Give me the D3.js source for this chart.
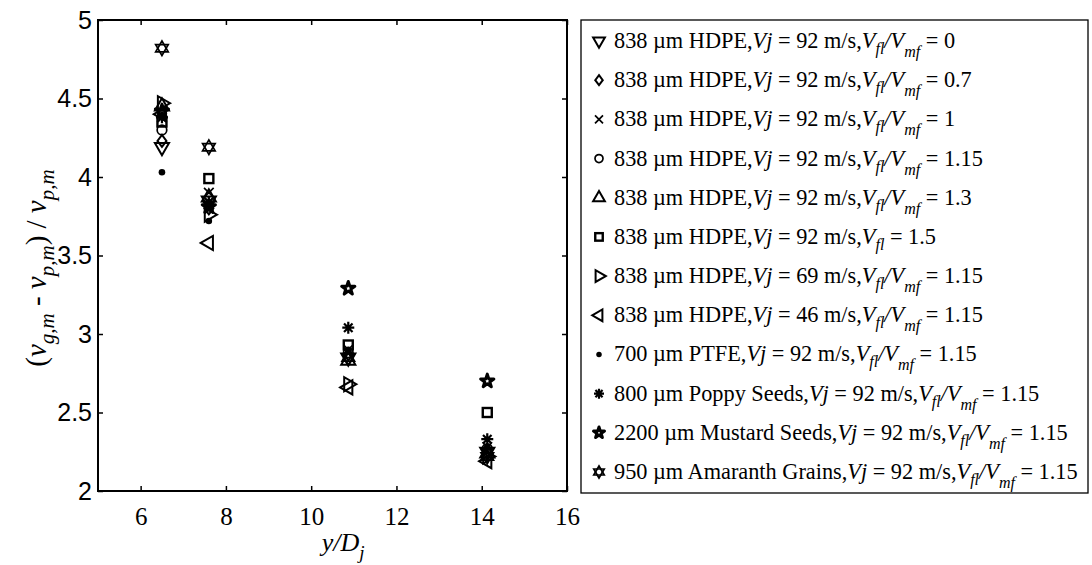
<!DOCTYPE html>
<html><head><meta charset="utf-8">
<script src="https://cdn.jsdelivr.net/npm/d3@7"></script>
<style>body{margin:0;background:#fff}</style>
</head><body>
<svg id="c" width="1092" height="565"></svg>
<script>
// ---------- data ----------
const xPositions = [6.5, 7.6, 10.87, 14.13];
const xTicks = [6, 8, 10, 12, 14, 16];
const yTicks = [2, 2.5, 3, 3.5, 4, 4.5, 5];
const yTickLabels = ["2", "2.5", "3", "3.5", "4", "4.5", "5"];
const seriesShapes = ["triDown","diamond","cross","circle","triUp","square","triRight","triLeft","dot","asterisk","pentagram","hexagram"];
const seriesPrefix = ["838 µm HDPE,","838 µm HDPE,","838 µm HDPE,","838 µm HDPE,","838 µm HDPE,","838 µm HDPE,","838 µm HDPE,","838 µm HDPE,","700 µm PTFE,","800 µm Poppy Seeds,","2200 µm Mustard Seeds,","950 µm Amaranth Grains,"];
const seriesVj = ["92","92","92","92","92","92","69","46","92","92","92","92"];
const seriesRatio = ["0","0.7","1","1.15","1.3","1.5","1.15","1.15","1.15","1.15","1.15","1.15"];
const seriesHasMf = [true,true,true,true,true,false,true,true,true,true,true,true];
const seriesValues = [
  [4.19, 3.85, 2.85, 2.25],
  [4.23, 3.80, 2.87, 2.26],
  [4.38, 3.90, 2.90, 2.28],
  [4.30, 3.82, 2.88, 2.27],
  [4.45, 3.87, 2.83, 2.24],
  [4.35, 3.99, 2.93, 2.50],
  [4.47, 3.76, 2.68, 2.22],
  [4.40, 3.58, 2.66, 2.19],
  [4.03, 3.72, 2.90, 2.28],
  [4.38, 3.84, 3.04, 2.33],
  [4.42, 3.81, 3.29, 2.70],
  [4.82, 4.19, 2.85, 2.22]
];

// ---------- layout ----------
const svg = d3.select("#c");
const L = 98, R = 567, T = 20, B = 491;
const x = d3.scaleLinear().domain([5, 16]).range([L, R]);
const y = d3.scaleLinear().domain([2, 5]).range([B, T]);
const serif = "'Liberation Serif','Times New Roman',serif";
const sans = "'Liberation Sans',Arial,sans-serif";

// frame
svg.append("rect").attr("x", L).attr("y", T).attr("width", R - L).attr("height", B - T)
  .attr("fill", "none").attr("stroke", "#000").attr("stroke-width", 2);

// axes via d3 (ticks inward)
const xAxB = svg.append("g").attr("transform", `translate(0,${B})`)
  .call(d3.axisBottom(x).tickValues(xTicks).tickSizeInner(-5).tickSizeOuter(0).tickPadding(16));
const xAxT = svg.append("g").attr("transform", `translate(0,${T})`)
  .call(d3.axisTop(x).tickValues(xTicks).tickSizeInner(-5).tickSizeOuter(0).tickFormat(""));
const yAxL = svg.append("g").attr("transform", `translate(${L},0)`)
  .call(d3.axisLeft(y).tickValues(yTicks).tickSizeInner(-5).tickSizeOuter(0).tickPadding(6)
  .tickFormat((d, i) => yTickLabels[i]));
const yAxR = svg.append("g").attr("transform", `translate(${R},0)`)
  .call(d3.axisRight(y).tickValues(yTicks).tickSizeInner(-5).tickSizeOuter(0).tickFormat(""));
[xAxB, xAxT, yAxL, yAxR].forEach(g => {
  g.select(".domain").remove();
  g.selectAll(".tick line").attr("stroke", "#000").attr("stroke-width", 1.5);
});
xAxB.selectAll(".tick text").attr("font-family", serif).attr("font-size", 25).attr("fill", "#000");
yAxL.selectAll(".tick text").attr("font-family", sans).attr("font-size", 25).attr("fill", "#000");

// axis labels
const xl = svg.append("text").attr("x", x(10.75)).attr("y", 551).attr("text-anchor", "middle")
  .attr("font-family", serif).attr("font-size", 26).attr("font-style", "italic");
xl.append("tspan").text("y/D");
xl.append("tspan").attr("dy", 8).attr("font-size", 19).text("j");

const yl = svg.append("text").attr("transform", `translate(46,${y(3.42)}) rotate(-90)`)
  .attr("text-anchor", "middle").attr("font-family", serif).attr("font-size", 29);
function ylPart(t, italic, sub) {
  const ts = yl.append("tspan").text(t);
  if (italic) ts.attr("font-style", "italic");
  if (sub) ts.attr("font-size", 21);
  return ts;
}
ylPart("(", false);
ylPart("v", true);
ylPart("g,m", true, true).attr("dy", 8);
ylPart(" - ", false).attr("dy", -8);
ylPart("v", true);
ylPart("p,m", true, true).attr("dy", 8);
ylPart(") / ", false).attr("dy", -8);
ylPart("v", true);
ylPart("p,m", true, true).attr("dy", 8);

// ---------- markers ----------
function drawMarker(g, shape, r) {
  const sw = 1.7;
  if (shape.startsWith("tri")) {
    const rot = {triUp: 0, triDown: 180, triRight: 90, triLeft: -90}[shape];
    g.append("path").attr("d", d3.symbol().type(d3.symbolTriangle).size(r * r * 2.4)())
      .attr("transform", `rotate(${rot})`).attr("fill", "none").attr("stroke", "#000").attr("stroke-width", sw + 0.3);
  } else if (shape === "diamond") {
    g.append("path").attr("d", `M0,${-r}L${r * 0.75},0L0,${r}L${-r * 0.75},0Z`)
      .attr("fill", "none").attr("stroke", "#000").attr("stroke-width", sw + 0.3);
  } else if (shape === "cross") {
    const a = r * 0.8;
    g.append("path").attr("d", `M${-a},${-a}L${a},${a}M${a},${-a}L${-a},${a}`)
      .attr("stroke", "#000").attr("stroke-width", sw);
  } else if (shape === "circle") {
    g.append("circle").attr("r", r * 0.8).attr("fill", "none").attr("stroke", "#000").attr("stroke-width", sw);
  } else if (shape === "square") {
    const a = r * 0.75;
    g.append("rect").attr("x", -a).attr("y", -a).attr("width", 2 * a).attr("height", 2 * a)
      .attr("fill", "none").attr("stroke", "#000").attr("stroke-width", sw + 0.7);
  } else if (shape === "dot") {
    g.append("circle").attr("r", r * 0.55).attr("fill", "#000");
  } else if (shape === "asterisk") {
    const a = r, b = r * 0.71;
    g.append("path").attr("d", `M0,${-a}L0,${a}M${-a},0L${a},0M${-b},${-b}L${b},${b}M${b},${-b}L${-b},${b}`)
      .attr("stroke", "#000").attr("stroke-width", sw + 0.5);
  } else if (shape === "pentagram") {
    g.append("path").attr("d", d3.symbol().type(d3.symbolStar).size(r * r * 1.5)())
      .attr("fill", "none").attr("stroke", "#000").attr("stroke-width", sw + 1.3).attr("stroke-linejoin", "round");
  } else if (shape === "hexagram") {
    const tri = d3.symbol().type(d3.symbolTriangle).size(r * r * 1.9)();
    g.append("path").attr("d", tri).attr("fill", "none").attr("stroke", "#000").attr("stroke-width", sw);
    g.append("path").attr("d", tri).attr("transform", "rotate(180)").attr("fill", "none").attr("stroke", "#000").attr("stroke-width", sw);
  }
}

const plot = svg.append("g");
seriesValues.forEach((vals, si) => {
  vals.forEach((v, xi) => {
    const g = plot.append("g").attr("transform", `translate(${x(xPositions[xi])},${y(v)})`);
    drawMarker(g, seriesShapes[si], 6);
  });
});

// ---------- legend ----------
const LX0 = 581, LX1 = 1088, LY0 = 20, LY1 = 493;
svg.append("rect").attr("x", LX0).attr("y", LY0).attr("width", LX1 - LX0).attr("height", LY1 - LY0)
  .attr("fill", "none").attr("stroke", "#000").attr("stroke-width", 1.3);
const rowY = d3.scalePoint().domain(d3.range(seriesShapes.length)).range([LY0 + 21, LY1 - 21]);
seriesShapes.forEach((shape, i) => {
  const cy = rowY(i);
  const g = svg.append("g").attr("transform", `translate(599,${cy})`);
  drawMarker(g, shape, 5);
  const t = svg.append("text").attr("x", 614).attr("y", cy + 7).attr("font-family", serif).attr("font-size", 22.3);
  t.append("tspan").text(seriesPrefix[i]);
  t.append("tspan").attr("font-style", "italic").text("Vj");
  t.append("tspan").text(" = " + seriesVj[i] + " m/s,");
  t.append("tspan").attr("font-style", "italic").text("V");
  t.append("tspan").attr("font-style", "italic").attr("font-size", 16).attr("dy", 6).text("fl");
  if (seriesHasMf[i]) {
    t.append("tspan").attr("font-style", "italic").attr("dy", -6).text("/V");
    t.append("tspan").attr("font-style", "italic").attr("font-size", 16).attr("dy", 9).text("mf");
    t.append("tspan").attr("dy", -9).text(" = " + seriesRatio[i]);
  } else {
    t.append("tspan").attr("dy", -6).text(" = " + seriesRatio[i]);
  }
});
</script>
</body></html>
